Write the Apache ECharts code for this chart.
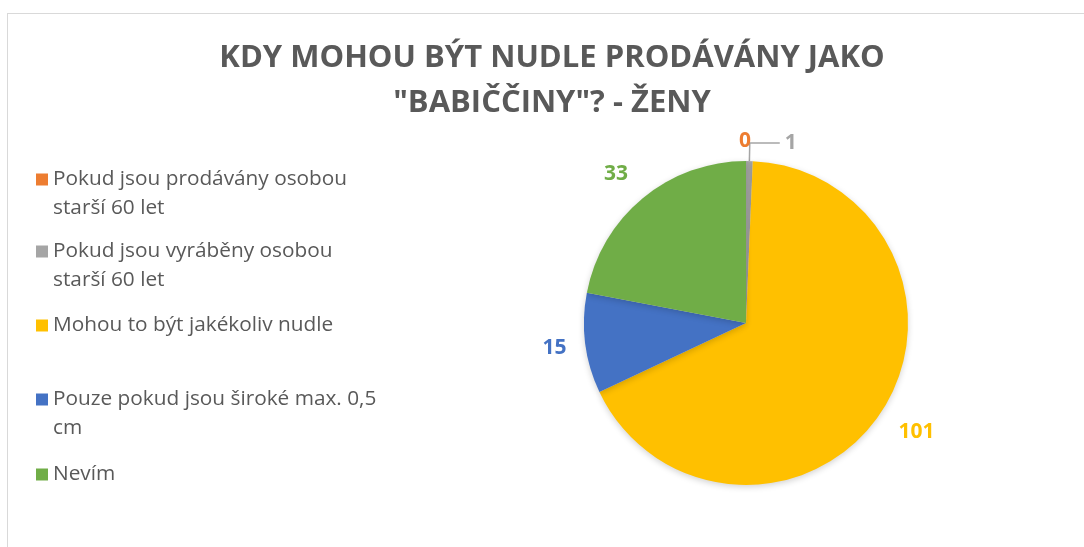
<!DOCTYPE html>
<html>
<head>
<meta charset="utf-8">
<script src="https://cdn.jsdelivr.net/npm/echarts@6/dist/echarts.min.js"></script>
<style>
  html, body { margin: 0; padding: 0; background: #fff; overflow: hidden; }
  #frame { position: absolute; left: 7px; top: 13px; width: 1200px; height: 700px; border: 1px solid #d9d9d9; }
  #main { position: absolute; left: 0; top: 0; width: 1084px; height: 547px; }
</style>
</head>
<body>
<div id="frame"></div>
<div id="main"></div>
<script>
  // data
  var categories = [
    'Pokud jsou prodávány osobou starší 60 let',
    'Pokud jsou vyráběny osobou starší 60 let',
    'Mohou to být jakékoliv nudle',
    'Pouze pokud jsou široké max. 0,5 cm',
    'Nevím'
  ];
  var values = [0, 1, 101, 15, 33];
  var colors = ['#ED7D31', '#A5A5A5', '#FFC000', '#4472C4', '#70AD47'];
  // how legend texts wrap in the original
  var legendLines = [
    ['Pokud jsou prodávány osobou', 'starší 60 let'],
    ['Pokud jsou vyráběny osobou', 'starší 60 let'],
    ['Mohou to být jakékoliv nudle'],
    ['Pouze pokud jsou široké max. 0,5', 'cm'],
    ['Nevím']
  ];

  var myChart = echarts.init(document.getElementById('main'));
  var font = '"Open Sans", sans-serif';
  var lh = 29;
  var legendTops = [136, 208, 311, 356, 460];

  var legends = categories.map(function (name, i) {
    var two = legendLines[i].length > 1;
    return {
      data: [name],
      orient: 'vertical',
      left: 36,
      top: legendTops[i],
      padding: 0,
      itemWidth: 12,
      itemHeight: 12,
      itemGap: 7,
      icon: 'rect',
      selectedMode: false,
      // blank line on top keeps the marker level with the first text line
      formatter: function () {
        return two ? ' \n' + legendLines[i].join('\n') : legendLines[i][0];
      },
      textStyle: {
        fontFamily: font,
        fontSize: 20.8,
        color: '#595959',
        lineHeight: lh
      }
    };
  });

  // small nudges so labels sit where Excel put them
  var labelShift = [[5, 3], null, [1, 8], [1, 2], [-2, -9]];

  var option = {
    backgroundColor: 'transparent',
    animation: false,
    color: colors,
    title: {
      text: 'KDY MOHOU BÝT NUDLE PRODÁVÁNY JAKO\n"BABIČČINY"? - ŽENY',
      left: 552,
      top: 36,
      padding: 0,
      textAlign: 'center',
      textStyle: {
        fontFamily: font,
        fontSize: 31,
        fontWeight: 'bold',
        color: '#595959',
        lineHeight: 45
      }
    },
    legend: legends,
    series: [
      {
        name: 'Ženy',
        type: 'pie',
        center: [746, 323],
        radius: 162,
        startAngle: 90,
        clockwise: true,
        avoidLabelOverlap: false,
        itemStyle: {
          shadowBlur: 6,
          shadowColor: 'rgba(0,0,0,0.18)',
          shadowOffsetY: 2
        },
        label: {
          show: true,
          position: 'outside',
          formatter: '{c}',
          fontFamily: font,
          fontSize: 21,
          fontWeight: 'bold',
          distanceToLabelLine: 0
        },
        labelLine: {
          show: false,
          length: 20,
          length2: 0
        },
        labelLayout: function (p) {
          var s = labelShift[p.dataIndex];
          return s ? { dx: s[0], dy: s[1] } : {};
        },
        data: categories.map(function (name, i) {
          var item = {
            name: name,
            value: values[i],
            itemStyle: { color: colors[i] },
            label: { color: colors[i] }
          };
          if (i === 0) {
            item.labelLine = { length: 23, length2: 0 };
          }
          if (i === 1) {
            item.label = { color: colors[i], distanceToLabelLine: 5, padding: [0, 0, 11, 0] };
            item.labelLine = { show: true, length: 18, length2: 30, lineStyle: { color: '#A5A5A5', width: 1.5 } };
          }
          return item;
        })
      }
    ]
  };

  myChart.setOption(option);
</script>
</body>
</html>
